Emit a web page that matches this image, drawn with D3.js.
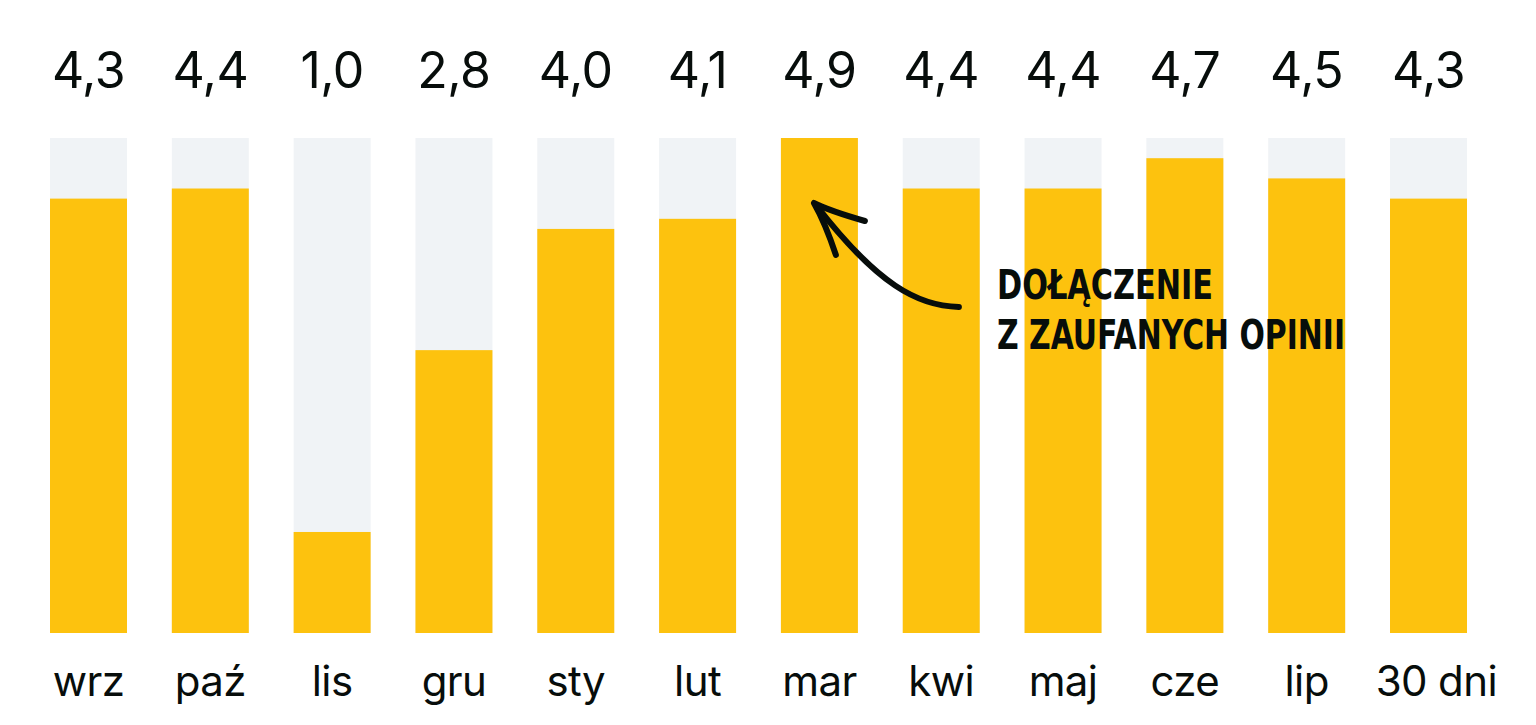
<!DOCTYPE html>
<html><head><meta charset="utf-8">
<script src="https://cdn.jsdelivr.net/npm/d3@7"></script>
<style>
html,body{margin:0;padding:0;background:#fff;}
svg{display:block;}
</style></head>
<body>
<svg id="chart" width="1536" height="725"></svg>
<script>
const categories = ["wrz","paź","lis","gru","sty","lut","mar","kwi","maj","cze","lip","30 dni"];
const values = [4.3,4.4,1.0,2.8,4.0,4.1,4.9,4.4,4.4,4.7,4.5,4.3];
const valueLabels = ["4,3","4,4","1,0","2,8","4,0","4,1","4,9","4,4","4,4","4,7","4,5","4,3"];
const annotationLines = ["DOŁĄCZENIE","Z ZAUFANYCH OPINII"];
const annotatedCategory = "mar";

const svg = d3.select("#chart");
const x = d3.scaleBand().domain(categories).range([50,1467]).paddingInner(0.368).paddingOuter(0);
const y = d3.scaleLinear().domain([0, d3.max(values)]).range([633,138]);

const data = categories.map((c,i)=>({c, v: values[i], l: valueLabels[i]}));

// tracks
svg.append("g").selectAll("rect").data(data).join("rect")
  .attr("x", d=>x(d.c)).attr("width", x.bandwidth())
  .attr("y", y.range()[1]).attr("height", y.range()[0]-y.range()[1])
  .attr("fill","#f0f3f6");

// bars
svg.append("g").selectAll("rect").data(data).join("rect")
  .attr("x", d=>x(d.c)).attr("width", x.bandwidth())
  .attr("y", d=>y(d.v)).attr("height", d=>y(0)-y(d.v))
  .attr("fill","#fdc20e");

// value labels
svg.append("g").selectAll("text").data(data).join("text")
  .attr("x", d=>x(d.c)+x.bandwidth()/2).attr("y", 88)
  .attr("text-anchor","middle")
  .attr("font-family","Inter, 'Noto Sans', sans-serif")
  .attr("font-size", 50).attr("fill","#070d0b")
  .attr("letter-spacing", -0.5)
  .text(d=>d.l);

// category labels (keep wide labels inside the chart's right edge)
const rightEdge = 1497;
svg.append("g").selectAll("text").data(data).join("text")
  .attr("y", 696)
  .attr("font-family","Inter, 'Noto Sans', sans-serif")
  .attr("font-size", 42).attr("fill","#070d0b")
  .attr("letter-spacing", -0.6)
  .text(d=>d.c)
  .each(function(d){
    const w = this.getComputedTextLength();
    const cx = x(d.c)+x.bandwidth()/2;
    const isLast = d.c === categories[categories.length-1];
    d3.select(this).attr("x", isLast ? rightEdge - w : cx - w/2);
  });

// annotation
const ax = x(annotatedCategory) + x.bandwidth();
const ann = svg.append("g");
const tipX = ax - 44, tipY = 203;
ann.append("path")
  .attr("d", `M${ax+101},307 C${ax+60},306 ${ax+20},285 ${tipX+2},${tipY+2}`)
  .attr("fill","none").attr("stroke","#070d0b").attr("stroke-width",6).attr("stroke-linecap","round");
ann.append("path")
  .attr("d", `M${tipX+51},${tipY+18} C${tipX+30},${tipY+12} ${tipX+12},${tipY+6} ${tipX},${tipY} C${tipX+8},${tipY+14} ${tipX+16},${tipY+34} ${tipX+22},${tipY+52}`)
  .attr("fill","none").attr("stroke","#070d0b").attr("stroke-width",6).attr("stroke-linecap","round").attr("stroke-linejoin","round");

const annWidths = [216, 348];
ann.selectAll("text").data(annotationLines).join("text")
  .attr("x", 997).attr("y", (d,i)=>299 + i*50)
  .attr("font-family","'DejaVu Sans Condensed', 'Liberation Sans Narrow', sans-serif")
  .attr("font-weight","bold").attr("font-size", 40)
  .attr("fill","#070d0b")
  .attr("textLength",(d,i)=>annWidths[i]).attr("lengthAdjust","spacingAndGlyphs")
  .text(d=>d);
</script>
</body></html>
